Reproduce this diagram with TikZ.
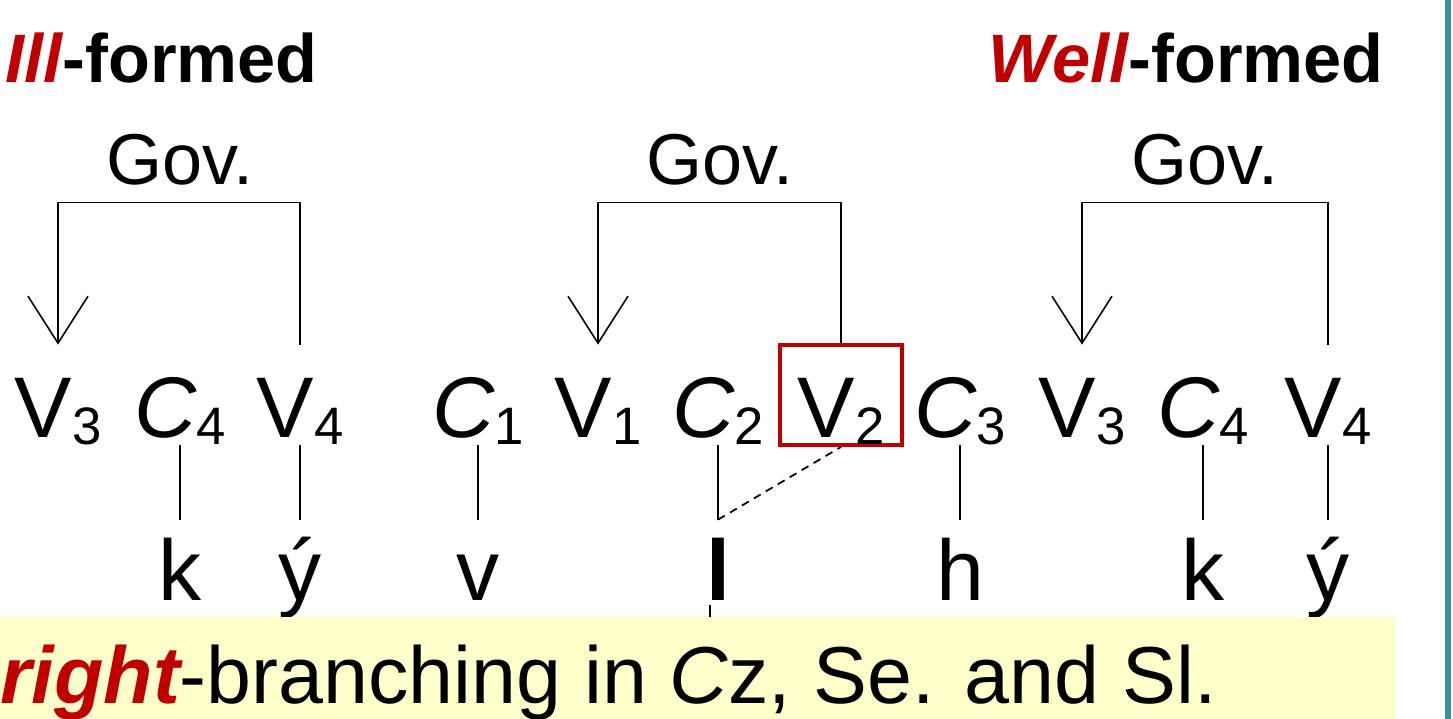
\documentclass[tikz,border=0pt]{standalone}
\usepackage{fontspec}
\setmainfont{Liberation Sans}
\usetikzlibrary{arrows.meta,positioning}
\definecolor{rojo}{HTML}{C00000}
\definecolor{amarillo}{HTML}{FFFFCC}
\definecolor{azul}{HTML}{3A8FA8}
\newcommand{\sub}[2]{#1{\fontsize{30}{30}\selectfont\raisebox{-4pt}{#2}}}

\begin{document}
\begin{tikzpicture}[x=0.02cm,y=-0.02cm,
  seg/.style={anchor=base,inner sep=0pt,text height=1.84cm,text depth=0.16cm,font=\fontsize{49}{49}\selectfont},
  letra/.style={anchor=base,inner sep=0pt,text height=1.6cm,text depth=0.1cm,font=\fontsize{49}{49}\selectfont},
  gov/.style={anchor=base,inner sep=0pt,text depth=0.34cm,font=\fontsize{41}{41}\selectfont},
  titulo/.style={anchor=base east,inner sep=0pt,font=\fontsize{39}{39}\selectfont\bfseries},
  rama/.style={line width=0.9pt},
  flecha/.style={rama,-{Straight Barb[length=0.94cm,width=1.2cm]}},
  linea/.style={line width=1pt}]
  \useasboundingbox (0,0) rectangle (1453,719);
  \clip (0,0) rectangle (1453,719);

  % Títulos
  \node[titulo] (mal) at (318,83) {\textcolor{rojo}{\itshape Ill}-formed};
  \node[titulo] (bien) at (1384,83) {\textcolor{rojo}{\itshape Well}-formed};

  % Gobierno
  \node[gov] (gova) at (180,185) {Gov.};
  \node[gov] (govb) at (720,185) {Gov.};
  \node[gov] (govc) at (1205,185) {Gov.};

  % Posiciones esqueléticas
  \node[seg] (V3a) at (58,437) {\sub{V}{3}};
  \node[seg] (C4a) at (180,437) {\sub{\textit{C}}{4}};
  \node[seg] (V4a) at (300,437) {\sub{V}{4}};
  \node[seg] (C1) at (478,437) {\sub{\textit{C}}{1}};
  \node[seg] (V1) at (598,437) {\sub{V}{1}};
  \node[seg] (C2) at (718,437) {\sub{\textit{C}}{2}};
  \node[seg,draw=rojo,line width=2.2pt,minimum width=2.44cm] (V2) at (841,437) {\sub{V}{2}};
  \node[seg] (C3) at (960,437) {\sub{\textit{C}}{3}};
  \node[seg] (V3b) at (1082,437) {\sub{V}{3}};
  \node[seg] (C4b) at (1203,437) {\sub{\textit{C}}{4}};
  \node[seg] (V4b) at (1328,437) {\sub{V}{4}};

  % Segmentos
  \node[letra] (ka) at (180,600) {k};
  \node[letra] (ya) at (300,600) {ý};
  \node[letra] (v) at (478,600) {v};
  \node[letra,font=\fontsize{49}{49}\selectfont\bfseries] (l) at (718,600) {l};
  \node[letra] (h) at (960,600) {h};
  \node[letra] (kb) at (1203,600) {k};
  \node[letra] (yb) at (1328,600) {ý};

  % Relaciones de gobierno
  \draw[flecha] (V4a.north) |- (gova.south) -| (V3a.north);
  \draw[flecha] (V2.north) |- (govb.south) -| (V1.north);
  \draw[flecha] (V4b.north) |- (govc.south) -| (V3b.north);

  % Asociaciones
  \draw[linea] (C4a.south) -- (ka.north);
  \draw[linea] (V4a.south) -- (ya.north);
  \draw[linea] (C1.south) -- (v.north);
  \draw[linea] (C2.south) -- (l.north);
  \draw[linea] (C3.south) -- (h.north);
  \draw[linea] (C4b.south) -- (kb.north);
  \draw[linea] (V4b.south) -- (yb.north);
  \draw[linea,dash pattern=on 4.5pt off 3.4pt] (l.north) -- (V2.south);
  \draw[line width=1.2pt] (l.south) ++(-8,0) -- ++(0,12);

  % Banda inferior
  \fill[amarillo] (0,617) rectangle (1396,719);
  \node[anchor=base west,inner sep=0pt,font=\fontsize{46}{46}\selectfont] (nota) at (0,703)
    {\textcolor{rojo}{\bfseries\itshape right}-branching in \textit{C}z, Se. and Sl.};

  % Borde derecho
  \fill[azul] (1445,0) rectangle (1451,719);
\end{tikzpicture}
\end{document}
